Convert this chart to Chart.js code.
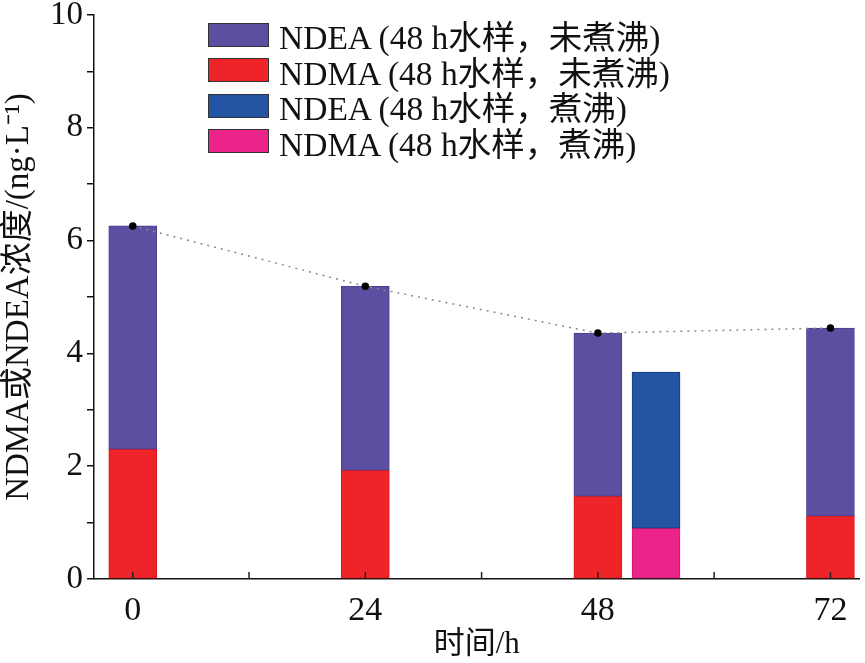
<!DOCTYPE html>
<html>
<head>
<meta charset="utf-8">
<script src="https://cdn.jsdelivr.net/npm/chart.js@4.4.1/dist/chart.umd.min.js"></script>
<style>
  body { margin: 0; background: #fff; }
  #wrap { position: relative; width: 865px; height: 663px; }
  #legend { position: absolute; left: 208px; top: 17px; font-family: "Liberation Serif", "Noto Sans CJK SC", serif; font-size: 33.5px; color: #111; }
  .row { display: flex; align-items: center; height: 35.5px; }
  .box { width: 61px; height: 24px; margin-right: 10px; box-sizing: border-box; border: 1px solid #333; }
</style>
</head>
<body>
<div id="wrap">
  <canvas id="myChart" width="865" height="663"></canvas>
  <div id="legend"></div>
</div>
<script>
// sampling time (h)
const times = [0, 24, 48, 72];
// unboiled water sample, ng/L
const ndma = [2.30, 1.93, 1.47, 1.12];
const ndea = [3.96, 3.26, 2.89, 3.33];
// boiled 48 h water sample
const boiledX = [54];
const ndmaBoiled = [0.90];
const ndeaBoiled = [2.77];
const xTicks = [0, 12, 24, 36, 48, 60, 72];

const labels = ["NDEA (48 h水样，未煮沸)", "NDMA (48 h水样，未煮沸)", "NDEA (48 h水样，煮沸)", "NDMA (48 h水样，煮沸)"];
const colors = ["#5b4fa1", "#ee2428", "#2455a4", "#ec2389"];

const serif = '"Liberation Serif", "Noto Sans CJK SC", serif';

const ndmaData = times.map((t, i) => ({x: t, y: [0, ndma[i]]}));
const ndeaData = times.map((t, i) => ({x: t, y: [ndma[i], ndma[i] + ndea[i]]}));
const ndmaBData = boiledX.map((t, i) => ({x: t, y: [0, ndmaBoiled[i]]}));
const ndeaBData = boiledX.map((t, i) => ({x: t, y: [ndmaBoiled[i], ndmaBoiled[i] + ndeaBoiled[i]]}));
const totalData = times.map((t, i) => ({x: t, y: ndma[i] + ndea[i]}));

// inward ticks on the x axis
const innerTicks = {
  id: "innerTicks",
  afterDatasetsDraw(chart) {
    const xs = chart.scales.x, ctx = chart.ctx;
    ctx.save();
    ctx.strokeStyle = "#222";
    ctx.lineWidth = 1.5;
    xs.ticks.forEach(t => {
      const px = xs.getPixelForValue(t.value);
      ctx.beginPath();
      ctx.moveTo(px, xs.top);
      ctx.lineTo(px, xs.top - 7);
      ctx.stroke();
    });
    ctx.restore();
  }
};

new Chart("myChart", {
  type: "bar",
  data: {
    datasets: [
      {type: "line", data: totalData, borderColor: "#8a8a8a", borderWidth: 1.5, borderDash: [2, 5],
       pointRadius: 3, pointBackgroundColor: "#000", pointBorderColor: "#000", fill: false, tension: 0, order: 0},
      {data: ndeaData, backgroundColor: colors[0], borderColor: "#4a3f8e", borderWidth: 1, borderSkipped: false, barThickness: 48, grouped: false, order: 1},
      {data: ndmaData, backgroundColor: colors[1], borderColor: "#d8191e", borderWidth: 1, borderSkipped: false, barThickness: 48, grouped: false, order: 1},
      {data: ndeaBData, backgroundColor: colors[2], borderColor: "#163a7c", borderWidth: 1, borderSkipped: false, barThickness: 48, grouped: false, order: 1},
      {data: ndmaBData, backgroundColor: colors[3], borderColor: "#c81873", borderWidth: 1, borderSkipped: false, barThickness: 48, grouped: false, order: 1}
    ]
  },
  options: {
    responsive: false,
    animation: false,
    layout: {padding: {top: 0, right: 3, left: 0, bottom: 0}},
    plugins: {legend: {display: false}, tooltip: {enabled: false}},
    scales: {
      x: {
        type: "linear", min: -4, max: 75, offset: false,
        border: {color: "#111", width: 1.5},
        grid: {display: false},
        afterBuildTicks: s => { s.ticks = xTicks.map(v => ({value: v})); },
        ticks: {autoSkip: false, maxRotation: 0, font: {family: serif, size: 34}, color: "#111", padding: 4,
                callback: v => (v % 24 === 0 ? v : "")},
        title: {display: true, text: "时间/h", font: {family: serif, size: 31}, color: "#111", padding: {top: 5, bottom: 0}},
        afterFit: s => { s.height = 84; }
      },
      y: {
        min: 0, max: 10,
        border: {color: "#111", width: 1.5},
        grid: {drawOnChartArea: false, tickLength: 7, color: "#111", lineWidth: 1.5},
        ticks: {stepSize: 1, font: {family: serif, size: 33}, color: "#111", padding: 4,
                callback: v => (v % 2 === 0 ? v : "")},
        title: {display: true, text: "NDMA或NDEA浓度/(ng·L⁻¹)", font: {family: serif, size: 33}, color: "#111", padding: 0},
        afterFit: s => { s.width = 94; s.paddingTop = 15; }
      }
    }
  },
  plugins: [innerTicks]
});

const legend = document.getElementById("legend");
labels.forEach((l, i) => {
  legend.innerHTML += '<div class="row"><span class="box" style="background:' + colors[i] + '"></span><span>' + l + '</span></div>';
});
</script>
</body>
</html>
